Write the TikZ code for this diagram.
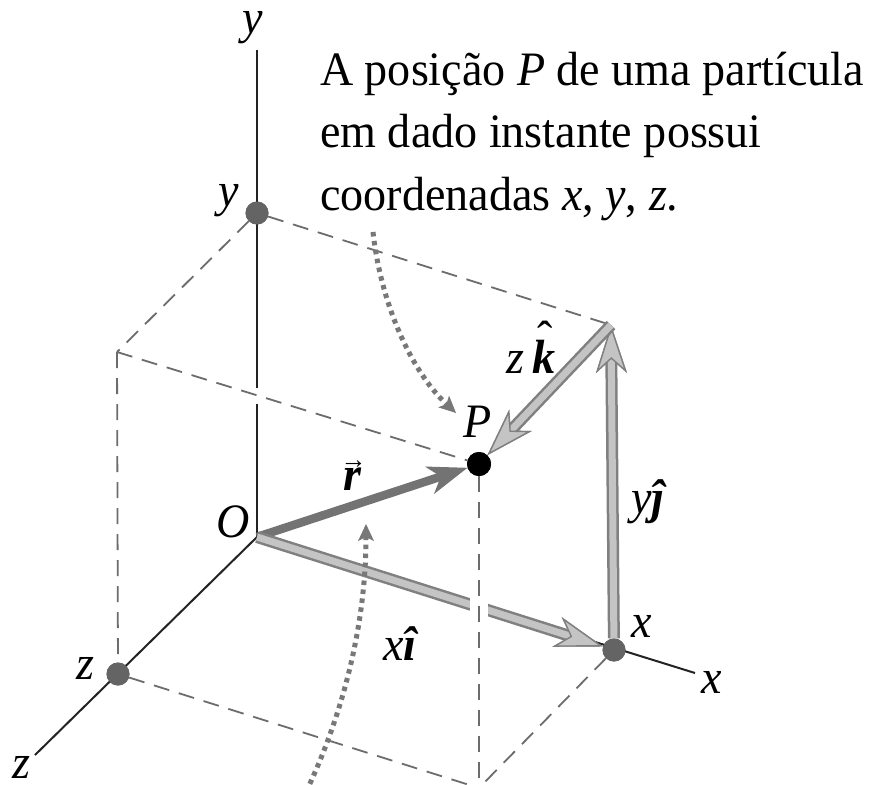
\documentclass[tikz,border=0pt]{standalone}
\usepackage{fontspec}
\setmainfont[FakeStretch=0.96]{Liberation Serif}
\usetikzlibrary{arrows.meta}
\definecolor{outl}{RGB}{128,128,128}
\definecolor{fillg}{RGB}{196,196,196}
\definecolor{rcol}{RGB}{115,115,115}
\definecolor{dashc}{RGB}{108,108,108}
\definecolor{dotc}{RGB}{120,120,120}
\definecolor{ptc}{RGB}{100,100,100}
\definecolor{axc}{RGB}{35,35,35}
\newcommand\hatk[1]{\setbox0\hbox{\bfseries\itshape #1}\rlap{\hbox to\wd0{\hss\kern2pt\raisebox{0.38em}{\normalfont\char"02C6}\hss}}\box0}
\newcommand\vecr[1]{\setbox0\hbox{\bfseries\itshape #1}\rlap{\hbox to\wd0{\hss\kern3pt\raisebox{0.45em}{\fontsize{27}{27}\selectfont\bfseries →}\hss}}\box0}
\begin{document}
\begin{tikzpicture}[x=1pt,y=-1pt,
  every node/.style={font=\fontsize{48}{62.5}\selectfont, inner sep=0pt},
  gdot/.style={circle, fill=ptc, minimum size=23pt, inner sep=0pt},
  bdot/.style={circle, fill=black, minimum size=24pt, inner sep=0pt},
  dline/.style={draw=dashc, line width=1.8pt, dash pattern=on 16pt off 10pt},
  axis/.style={draw=axc, line width=2pt},
  dotarr/.style={draw=dotc, line width=5pt, dash pattern=on 4.5pt off 4.5pt,
    -{Stealth[length=17pt, width=16pt, inset=4pt, fill=dotc, line width=0pt]}},
  dblarr/.style={draw=fillg, line width=7pt, preaction={draw=outl, line width=12pt},
    -{Stealth[length=48pt, width=31pt, inset=14pt, fill=fillg, color=outl, line width=1.4pt]}},
  rarr/.style={draw=rcol, line width=8.5pt,
    -{Stealth[length=40pt, width=29pt, inset=12pt, fill=rcol, line width=0pt]}},
  lab/.style={anchor=base}]
\fill[white] (0,0) rectangle (874,784);
\useasboundingbox (0,0) rectangle (874,784);
% points
\coordinate (O) at (257,537);
\coordinate (XY) at (611,325);
\coordinate (YZ) at (117,352);
\coordinate (XZ) at (479,788);
\coordinate (yend) at (257,50);
\coordinate (xend) at (695,673);
\coordinate (zend) at (35,755);
\coordinate (ygapA) at (257,388);
\coordinate (ygapB) at (257,404);
\node[gdot] (Y) at (257,213) {};
\node[gdot] (X) at (614,650) {};
\node[gdot] (Z) at (118,674) {};
\node[bdot] (P) at (479,464) {};
% dashed box edges
\draw[dline] (Y) -- (YZ);
\draw[dline] (Y) -- (XY);
\draw[dline] (YZ) -- (Z);
\draw[dline] (Z) -- (XZ);
\draw[dline] (X) -- (XZ);
% axes
\draw[axis] (yend) -- (ygapA);
\draw[axis] (ygapB) -- (O);
\draw[axis] (O) -- (zend);
\draw[axis] (O) -- (xend);
\draw[dline] (YZ) -- (P);
% vectors
\draw[rarr] (O) -- (P);
\draw[dblarr] (O) -- (X);
\fill[white] (470,592) rectangle (488,622);
\draw[dline] (P) -- (XZ);
\draw[dblarr] (X) -- (XY);
\draw[dblarr] (XY) -- (P);
% dotted pointers
\coordinate (d1s) at (373,232);
\coordinate (d1e) at (456,413);
\draw[dotarr] (d1s) .. controls (381,305) and (412,372) .. (d1e);
\coordinate (d2s) at (306,792);
\coordinate (d2e) at (366,524);
\draw[dotarr] (d2s) .. controls (345,710) and (366,620) .. (d2e);
% dots on top
\node[gdot] at (Y) {};
\node[gdot] at (X) {};
\node[gdot] at (Z) {};
\node[bdot] at (P) {};
% labels
\node[lab] (ly) at (253,34) {\textit{y}};
\node[lab] (lyy) at (229,206) {\textit{y}};
\node[lab] (lO) at (233,537) {\textit{O}};
\node[lab] (lz) at (85,679) {\textit{z}};
\node[lab] (lzz) at (21,778) {\textit{z}};
\node[lab] (lx) at (642,637) {\textit{x}};
\node[lab] (lxx) at (712,693) {\textit{x}};
\node[lab] (lP) at (478,437) {\textit{P}};
\node[anchor=base] (lk) at (531,373) {\textit{z}\,\hatk{k}};
\node[anchor=base] (lj) at (649,513) {\textit{y}\textbf{\textit{ĵ}}};
\node[anchor=base] (li) at (401,660) {\textit{x}\textbf{\textit{î}}};
\node[anchor=base] (lr) at (352,490) {\vecr{r}};
\node[anchor=base west, align=left] (txt) at (320,210)
  {A posição \textit{P} de uma partícula\\em dado instante possui\\coordenadas \textit{x}, \textit{y}, \textit{z}.};
\end{tikzpicture}
\end{document}
